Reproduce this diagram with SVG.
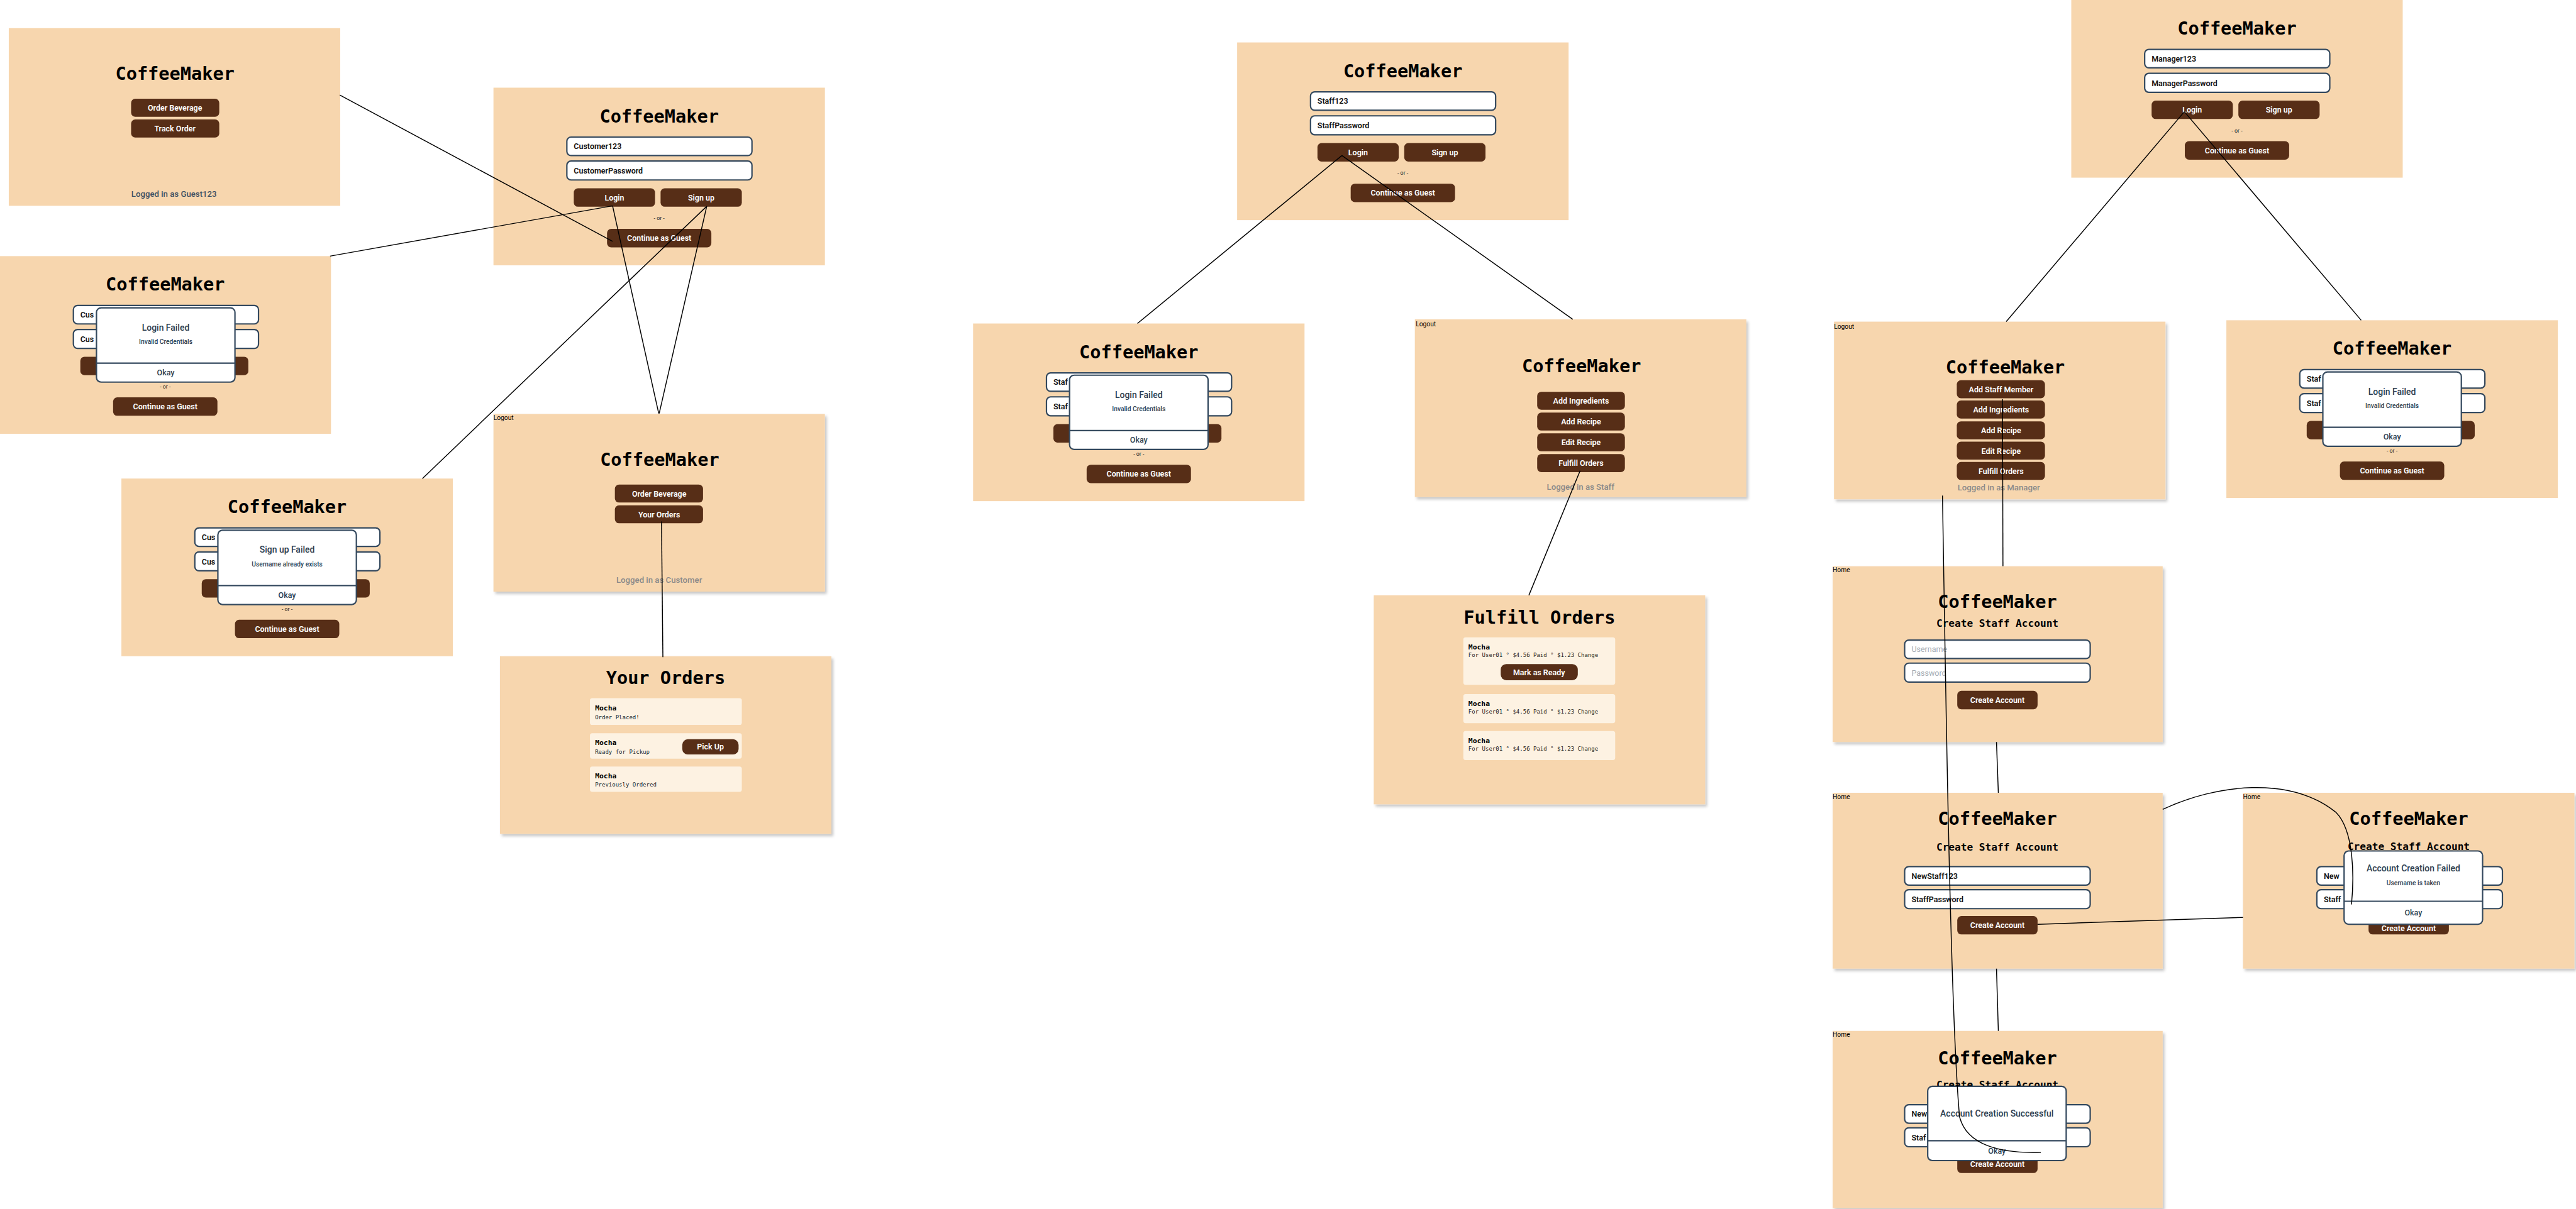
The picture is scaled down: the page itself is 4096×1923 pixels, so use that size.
<svg xmlns="http://www.w3.org/2000/svg" width="4096" height="1923" viewBox="0 0 4096 1923">
<defs>
<style>
.pn{fill:#F7D6AE}
.t{font-family:"DejaVu Sans Mono","Liberation Mono",monospace;font-weight:bold;font-size:39px;text-anchor:middle;fill:#000}
.st{font-family:"DejaVu Sans Mono","Liberation Mono",monospace;font-weight:bold;font-size:22px;text-anchor:middle;fill:#000}
.b{fill:#572E17}
.bt{font-family:Roboto,"Liberation Sans",sans-serif;font-weight:600;font-size:17px;fill:#fff;text-anchor:middle}
.in{fill:#fff;stroke:#34495E;stroke-width:3}
.it{font-family:Roboto,"Liberation Sans",sans-serif;font-weight:600;font-size:17px;fill:#111}
.ph{font-family:Roboto,"Liberation Sans",sans-serif;font-size:17px;fill:#A3ABB3}
.or{font-family:Roboto,"Liberation Sans",sans-serif;font-size:12px;fill:#222;text-anchor:middle}
.dl{fill:#fff;stroke:#34495E;stroke-width:3}
.dv{stroke:#34495E;stroke-width:3}
.dh{font-family:Roboto,"Liberation Sans",sans-serif;font-weight:500;font-size:19px;fill:#2C3E50;text-anchor:middle}
.ds{font-family:Roboto,"Liberation Sans",sans-serif;font-weight:500;font-size:14px;fill:#2C3E50;text-anchor:middle}
.ok{font-family:Roboto,"Liberation Sans",sans-serif;font-weight:500;font-size:17px;fill:#2C3E50;text-anchor:middle}
.lg{font-family:Roboto,"Liberation Sans",sans-serif;font-weight:500;font-size:18px;fill:#8A8A8A;text-anchor:middle}
.lgd{font-family:Roboto,"Liberation Sans",sans-serif;font-weight:500;font-size:18px;fill:#3E5063;text-anchor:middle}
.lo{font-family:Roboto,"Liberation Sans",sans-serif;font-size:14px;fill:#000}
.cd{fill:#FDF2E2}
.mb{font-family:"DejaVu Sans Mono","Liberation Mono",monospace;font-weight:bold;font-size:15.5px;fill:#000}
.ms{font-family:"DejaVu Sans Mono","Liberation Mono",monospace;font-size:12.3px;fill:#222}
.cn{stroke:#000;stroke-width:2;fill:none}
.shd{filter:url(#ds)}
</style>
<filter id="ds" x="-5%" y="-5%" width="112%" height="115%">
<feDropShadow dx="4" dy="5" stdDeviation="3" flood-color="#000" flood-opacity="0.22"/>
</filter>
</defs>
<rect width="4096" height="1923" fill="#fff"/>
<g transform="scale(0.734)">

<g id="guest-home" transform="translate(19,61)">
<rect class="pn" width="718" height="385"/>
<text class="t" x="360" y="112">CoffeeMaker</text>
<rect class="b" x="265" y="153" width="191" height="39" rx="9"/>
<text class="bt" x="360" y="179">Order Beverage</text>
<rect class="b" x="265" y="198" width="191" height="39" rx="9"/>
<text class="bt" x="360" y="224">Track Order</text>
<text class="lgd" x="358" y="366">Logged in as Guest123</text>
</g>

<g id="customer-login" transform="translate(1069,190)">
<rect class="pn" width="718" height="385"/>
<text class="t" x="359" y="75">CoffeeMaker</text>
<rect class="in" x="159" y="107" width="401" height="40" rx="9"/>
<text class="it" x="174" y="133">Customer123</text>
<rect class="in" x="159" y="159" width="401" height="41" rx="9"/>
<text class="it" x="174" y="186">CustomerPassword</text>
<rect class="b" x="174" y="218" width="176" height="40" rx="9"/>
<text class="bt" x="262" y="244">Login</text>
<rect class="b" x="362" y="218" width="176" height="40" rx="9"/>
<text class="bt" x="450" y="244">Sign up</text>
<text class="or" x="359" y="287">- or -</text>
<rect class="b" x="246" y="306" width="226" height="40" rx="9"/>
<text class="bt" x="359" y="332">Continue as Guest</text>
</g>

<g id="customer-login-failed" transform="translate(0,555)">
<rect class="pn" width="717" height="385"/>
<text class="t" x="358" y="75">CoffeeMaker</text>
<rect class="in" x="159" y="107" width="401" height="40" rx="9"/>
<text class="it" x="174" y="133">Cus</text>
<rect class="in" x="159" y="159" width="401" height="41" rx="9"/>
<text class="it" x="174" y="186">Cus</text>
<rect class="b" x="174" y="218" width="176" height="40" rx="9"/>
<rect class="b" x="362" y="218" width="176" height="40" rx="9"/>
<text class="or" x="358" y="287">- or -</text>
<rect class="b" x="245" y="306" width="226" height="40" rx="9"/>
<text class="bt" x="358" y="332">Continue as Guest</text>
<rect class="dl" x="209" y="112" width="300" height="161" rx="10"/>
<line class="dv" x1="209" y1="232" x2="509" y2="232"/>
<text class="dh" x="359" y="161">Login Failed</text>
<text class="ds" x="359" y="190">Invalid Credentials</text>
<text class="ok" x="359" y="258">Okay</text>
</g>

<g id="signup-failed" transform="translate(263,1037)">
<rect class="pn" width="718" height="385"/>
<text class="t" x="359" y="75">CoffeeMaker</text>
<rect class="in" x="159" y="107" width="401" height="40" rx="9"/>
<text class="it" x="174" y="133">Cus</text>
<rect class="in" x="159" y="159" width="401" height="41" rx="9"/>
<text class="it" x="174" y="186">Cus</text>
<rect class="b" x="174" y="218" width="176" height="40" rx="9"/>
<rect class="b" x="362" y="218" width="176" height="40" rx="9"/>
<text class="or" x="359" y="287">- or -</text>
<rect class="b" x="246" y="306" width="226" height="40" rx="9"/>
<text class="bt" x="359" y="332">Continue as Guest</text>
<rect class="dl" x="209" y="112" width="300" height="161" rx="10"/>
<line class="dv" x1="209" y1="232" x2="509" y2="232"/>
<text class="dh" x="359" y="161">Sign up Failed</text>
<text class="ds" x="359" y="190">Username already exists</text>
<text class="ok" x="359" y="258">Okay</text>
</g>

<g id="customer-home" transform="translate(1069,897)">
<rect class="pn shd" width="718" height="385"/>
<text class="lo" x="0" y="13">Logout</text>
<text class="t" x="360" y="112">CoffeeMaker</text>
<rect class="b" x="263" y="153" width="191" height="39" rx="9"/>
<text class="bt" x="359" y="179">Order Beverage</text>
<rect class="b" x="263" y="198" width="191" height="39" rx="9"/>
<text class="bt" x="359" y="224">Your Orders</text>
<text class="lg" x="359" y="366">Logged in as Customer</text>
</g>

<g id="your-orders" transform="translate(1083,1422)">
<rect class="pn shd" width="718" height="385"/>
<text class="t" x="359" y="60">Your Orders</text>
<rect class="cd" x="195" y="91" width="329" height="58" rx="5"/>
<text class="mb" x="206" y="117">Mocha</text>
<text class="ms" x="206" y="136">Order Placed!</text>
<rect class="cd" x="195" y="167" width="329" height="55" rx="5"/>
<text class="mb" x="206" y="193">Mocha</text>
<text class="ms" x="206" y="211">Ready for Pickup</text>
<rect class="b" x="395" y="180" width="122" height="33" rx="12"/>
<text class="bt" x="456" y="202">Pick Up</text>
<rect class="cd" x="195" y="239" width="329" height="55" rx="5"/>
<text class="mb" x="206" y="265">Mocha</text>
<text class="ms" x="206" y="282">Previously Ordered</text>
</g>

<g id="staff-login" transform="translate(2680,92)">
<rect class="pn" width="718" height="385"/>
<text class="t" x="359" y="75">CoffeeMaker</text>
<rect class="in" x="159" y="107" width="401" height="40" rx="9"/>
<text class="it" x="174" y="133">Staff123</text>
<rect class="in" x="159" y="159" width="401" height="41" rx="9"/>
<text class="it" x="174" y="186">StaffPassword</text>
<rect class="b" x="174" y="218" width="176" height="40" rx="9"/>
<text class="bt" x="262" y="244">Login</text>
<rect class="b" x="362" y="218" width="176" height="40" rx="9"/>
<text class="bt" x="450" y="244">Sign up</text>
<text class="or" x="359" y="287">- or -</text>
<rect class="b" x="246" y="306" width="226" height="40" rx="9"/>
<text class="bt" x="359" y="332">Continue as Guest</text>
</g>

<g id="staff-login-failed" transform="translate(2108,701)">
<rect class="pn" width="718" height="385"/>
<text class="t" x="359" y="75">CoffeeMaker</text>
<rect class="in" x="159" y="107" width="401" height="40" rx="9"/>
<text class="it" x="174" y="133">Staf</text>
<rect class="in" x="159" y="159" width="401" height="41" rx="9"/>
<text class="it" x="174" y="186">Staf</text>
<rect class="b" x="174" y="218" width="176" height="40" rx="9"/>
<rect class="b" x="362" y="218" width="176" height="40" rx="9"/>
<text class="or" x="359" y="287">- or -</text>
<rect class="b" x="246" y="306" width="226" height="40" rx="9"/>
<text class="bt" x="359" y="332">Continue as Guest</text>
<rect class="dl" x="209" y="112" width="300" height="161" rx="10"/>
<line class="dv" x1="209" y1="232" x2="509" y2="232"/>
<text class="dh" x="359" y="161">Login Failed</text>
<text class="ds" x="359" y="190">Invalid Credentials</text>
<text class="ok" x="359" y="258">Okay</text>
</g>

<g id="staff-home" transform="translate(3065,692)">
<rect class="pn shd" width="718" height="385"/>
<text class="lo" x="2" y="15">Logout</text>
<text class="t" x="361" y="114">CoffeeMaker</text>
<rect class="b" x="265" y="157" width="190" height="39" rx="9"/>
<text class="bt" x="360" y="183">Add Ingredients</text>
<rect class="b" x="265" y="202" width="190" height="39" rx="9"/>
<text class="bt" x="360" y="228">Add Recipe</text>
<rect class="b" x="265" y="247" width="190" height="39" rx="9"/>
<text class="bt" x="360" y="273">Edit Recipe</text>
<rect class="b" x="265" y="292" width="190" height="39" rx="9"/>
<text class="bt" x="360" y="318">Fulfill Orders</text>
<text class="lg" x="359" y="369">Logged in as Staff</text>
</g>

<g id="fulfill-orders" transform="translate(2976,1290)">
<rect class="pn shd" width="718" height="453"/>
<text class="t" x="359" y="61">Fulfill Orders</text>
<rect class="cd" x="194" y="91" width="329" height="103" rx="5"/>
<text class="mb" x="205" y="117">Mocha</text>
<text class="ms" x="205" y="134">For User01 ° $4.56 Paid ° $1.23 Change</text>
<rect class="b" x="275" y="149" width="167" height="35" rx="12"/>
<text class="bt" x="358" y="173">Mark as Ready</text>
<rect class="cd" x="194" y="214" width="329" height="63" rx="5"/>
<text class="mb" x="205" y="240">Mocha</text>
<text class="ms" x="205" y="257">For User01 ° $4.56 Paid ° $1.23 Change</text>
<rect class="cd" x="194" y="294" width="329" height="63" rx="5"/>
<text class="mb" x="205" y="320">Mocha</text>
<text class="ms" x="205" y="337">For User01 ° $4.56 Paid ° $1.23 Change</text>
</g>

<g id="manager-login" transform="translate(4487,0)">
<rect class="pn" width="718" height="385"/>
<text class="t" x="359" y="75">CoffeeMaker</text>
<rect class="in" x="159" y="107" width="401" height="40" rx="9"/>
<text class="it" x="174" y="133">Manager123</text>
<rect class="in" x="159" y="159" width="401" height="41" rx="9"/>
<text class="it" x="174" y="186">ManagerPassword</text>
<rect class="b" x="174" y="218" width="176" height="40" rx="9"/>
<text class="bt" x="262" y="244">Login</text>
<rect class="b" x="362" y="218" width="176" height="40" rx="9"/>
<text class="bt" x="450" y="244">Sign up</text>
<text class="or" x="359" y="287">- or -</text>
<rect class="b" x="246" y="306" width="226" height="40" rx="9"/>
<text class="bt" x="359" y="332">Continue as Guest</text>
</g>

<g id="manager-home" transform="translate(3973,697)">
<rect class="pn shd" width="718" height="385"/>
<text class="lo" x="0" y="16">Logout</text>
<text class="t" x="371" y="112">CoffeeMaker</text>
<rect class="b" x="266" y="127" width="191" height="39" rx="9"/>
<text class="bt" x="362" y="153">Add Staff Member</text>
<rect class="b" x="266" y="171" width="191" height="39" rx="9"/>
<text class="bt" x="362" y="197">Add Ingredients</text>
<rect class="b" x="266" y="216" width="191" height="39" rx="9"/>
<text class="bt" x="362" y="242">Add Recipe</text>
<rect class="b" x="266" y="260" width="191" height="39" rx="9"/>
<text class="bt" x="362" y="286">Edit Recipe</text>
<rect class="b" x="266" y="304" width="191" height="39" rx="9"/>
<text class="bt" x="362" y="330">Fulfill Orders</text>
<text class="lg" x="357" y="366">Logged in as Manager</text>
</g>

<g id="manager-login-failed" transform="translate(4823,694)">
<rect class="pn" width="718" height="385"/>
<text class="t" x="359" y="75">CoffeeMaker</text>
<rect class="in" x="159" y="107" width="401" height="40" rx="9"/>
<text class="it" x="174" y="133">Staf</text>
<rect class="in" x="159" y="159" width="401" height="41" rx="9"/>
<text class="it" x="174" y="186">Staf</text>
<rect class="b" x="174" y="218" width="176" height="40" rx="9"/>
<rect class="b" x="362" y="218" width="176" height="40" rx="9"/>
<text class="or" x="359" y="287">- or -</text>
<rect class="b" x="246" y="306" width="226" height="40" rx="9"/>
<text class="bt" x="359" y="332">Continue as Guest</text>
<rect class="dl" x="209" y="112" width="300" height="161" rx="10"/>
<line class="dv" x1="209" y1="232" x2="509" y2="232"/>
<text class="dh" x="359" y="161">Login Failed</text>
<text class="ds" x="359" y="190">Invalid Credentials</text>
<text class="ok" x="359" y="258">Okay</text>
</g>

<g id="create-staff-empty" transform="translate(3970,1227)">
<rect class="pn shd" width="715" height="381"/>
<text class="lo" x="0" y="13">Home</text>
<text class="t" x="357" y="91">CoffeeMaker</text>
<text class="st" x="357" y="132">Create Staff Account</text>
<rect class="in" x="156" y="160" width="402" height="40" rx="9"/>
<text class="ph" x="171" y="186">Username</text>
<rect class="in" x="156" y="210" width="402" height="41" rx="9"/>
<text class="ph" x="171" y="237">Password</text>
<rect class="b" x="270" y="270" width="174" height="40" rx="9"/>
<text class="bt" x="357" y="296">Create Account</text>
</g>

<g id="create-staff-filled" transform="translate(3970,1718)">
<rect class="pn shd" width="715" height="381"/>
<text class="lo" x="0" y="13">Home</text>
<text class="t" x="357" y="70">CoffeeMaker</text>
<text class="st" x="357" y="125">Create Staff Account</text>
<rect class="in" x="156" y="160" width="402" height="40" rx="9"/>
<text class="it" x="171" y="186">NewStaff123</text>
<rect class="in" x="156" y="210" width="402" height="41" rx="9"/>
<text class="it" x="171" y="237">StaffPassword</text>
<rect class="b" x="270" y="267" width="174" height="40" rx="9"/>
<text class="bt" x="357" y="293">Create Account</text>
</g>

<g id="create-staff-success" transform="translate(3970,2234)">
<rect class="pn shd" width="715" height="384"/>
<text class="lo" x="0" y="13">Home</text>
<text class="t" x="357" y="73">CoffeeMaker</text>
<text class="st" x="357" y="124">Create Staff Account</text>
<rect class="in" x="156" y="160" width="402" height="40" rx="9"/>
<text class="it" x="171" y="186">New</text>
<rect class="in" x="156" y="210" width="402" height="41" rx="9"/>
<text class="it" x="171" y="237">Staf</text>
<rect class="b" x="270" y="270" width="174" height="38" rx="9"/>
<text class="bt" x="357" y="295">Create Account</text>
<rect class="dl" x="206" y="120" width="300" height="161" rx="10"/>
<line class="dv" x1="206" y1="238" x2="506" y2="238"/>
<text class="dh" x="356" y="186">Account Creation Successful</text>
<text class="ok" x="356" y="266">Okay</text>
</g>

<g id="create-staff-failed" transform="translate(4859,1718)">
<rect class="pn shd" width="718" height="381"/>
<text class="lo" x="0" y="13">Home</text>
<text class="t" x="359" y="70">CoffeeMaker</text>
<text class="st" x="359" y="124">Create Staff Account</text>
<rect class="in" x="160" y="160" width="402" height="40" rx="9"/>
<text class="it" x="175" y="186">New</text>
<rect class="in" x="160" y="210" width="402" height="41" rx="9"/>
<text class="it" x="175" y="237">Staff</text>
<rect class="b" x="272" y="267" width="174" height="40" rx="9"/>
<text class="bt" x="359" y="300">Create Account</text>
<rect class="dl" x="219" y="126" width="300" height="159" rx="10"/>
<line class="dv" x1="219" y1="235" x2="519" y2="235"/>
<text class="dh" x="369" y="170">Account Creation Failed</text>
<text class="ds" x="369" y="200">Username is taken</text>
<text class="ok" x="369" y="265">Okay</text>
</g>

<g id="connectors">
<line class="cn" x1="736" y1="206" x2="1327" y2="523"/>
<line class="cn" x1="715" y1="555" x2="1327" y2="446"/>
<line class="cn" x1="1327" y1="446" x2="1427" y2="896"/>
<line class="cn" x1="1531" y1="447" x2="915" y2="1037"/>
<line class="cn" x1="1531" y1="447" x2="1428" y2="896"/>
<line class="cn" x1="1433" y1="1130" x2="1436" y2="1424"/>
<line class="cn" x1="2907" y1="337" x2="2464" y2="701"/>
<line class="cn" x1="2907" y1="337" x2="3407" y2="692"/>
<line class="cn" x1="3423" y1="1020" x2="3312" y2="1290"/>
<line class="cn" x1="4732" y1="242" x2="4346" y2="697"/>
<line class="cn" x1="4732" y1="242" x2="5115" y2="694"/>
<line class="cn" x1="4338" y1="865" x2="4339" y2="1227"/>
<line class="cn" x1="4325" y1="1608" x2="4329" y2="1718"/>
<line class="cn" x1="4325" y1="2099" x2="4329" y2="2234"/>
<line class="cn" x1="4414" y1="2003" x2="4859" y2="1988"/>
<path class="cn" d="M4685,1754 C4800,1700 4960,1680 5060,1760 C5100,1800 5100,1900 5094,1960"/>
<path class="cn" d="M4208,1074 C4215,1500 4225,2200 4245,2420 C4260,2480 4330,2500 4421,2497"/>
</g>
</g>
</svg>
